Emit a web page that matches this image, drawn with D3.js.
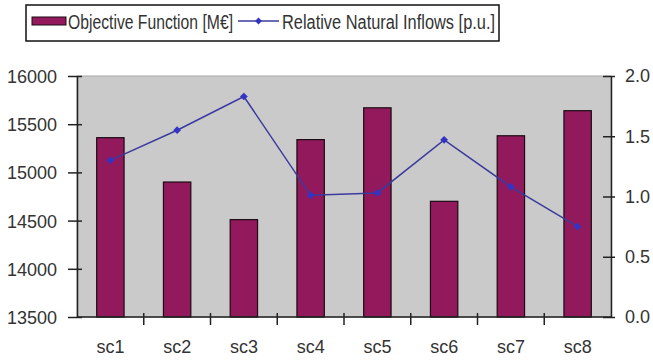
<!DOCTYPE html>
<html><head><meta charset="utf-8">
<script src="https://cdn.jsdelivr.net/npm/d3@7"></script>
<style>body{margin:0;background:#fff}svg{display:block}text{font-family:"Liberation Sans",Arial,sans-serif}</style>
</head><body>
<svg id="c" width="653" height="361"></svg>
<script>
const categories = ["sc1","sc2","sc3","sc4","sc5","sc6","sc7","sc8"];
const objectiveFunction = [15360, 14900, 14510, 15340, 15670, 14700, 15380, 15640];
const naturalInflows = [1.30, 1.55, 1.83, 1.01, 1.03, 1.47, 1.08, 0.75];
const leftTicks = [13500, 14000, 14500, 15000, 15500, 16000];
const rightTicks = [0.0, 0.5, 1.0, 1.5, 2.0];
const seriesNames = ["Objective Function [M\u20AC]", "Relative Natural Inflows [p.u.]"];

const svg = d3.select("#c");
const L = 77, R = 611, T = 76, B = 317;
const x = d3.scaleBand().domain(categories).range([L, R]).paddingInner(0).paddingOuter(0);
const yL = d3.scaleLinear().domain([13500, 16000]).range([B, T]);
const yR = d3.scaleLinear().domain([0, 2]).range([B, T]);
const barColor = "#921a5c", lineColor = "#3b3aa0", markColor = "#3434c4", txt = "#333";

svg.append("rect").attr("x", L).attr("y", T).attr("width", R - L).attr("height", B - T)
  .attr("fill", "#cacaca").attr("stroke", "#a8a8a8").attr("stroke-width", 1);

const bw = x.bandwidth() * 0.41;
svg.append("g").selectAll("rect").data(categories).join("rect")
  .attr("x", d => x(d) + x.bandwidth() / 2 - bw / 2)
  .attr("y", (d, i) => yL(objectiveFunction[i]))
  .attr("width", bw)
  .attr("height", (d, i) => B - yL(objectiveFunction[i]))
  .attr("fill", barColor).attr("stroke", "#1a0a12").attr("stroke-width", 1.2);

const line = d3.line().x((d, i) => x(categories[i]) + x.bandwidth() / 2).y(d => yR(d));
svg.append("path").datum(naturalInflows).attr("d", line)
  .attr("fill", "none").attr("stroke", lineColor).attr("stroke-width", 1.5);
svg.append("g").selectAll("path").data(naturalInflows).join("path")
  .attr("d", d3.symbol(d3.symbolDiamond2, 38))
  .attr("transform", (d, i) => `translate(${x(categories[i]) + x.bandwidth() / 2},${yR(d)})`)
  .attr("fill", markColor);

// axes
const axL = svg.append("g").attr("transform", `translate(${L},0)`)
  .call(d3.axisLeft(yL).tickValues(leftTicks).tickSizeInner(9).tickSizeOuter(0).tickPadding(11).tickFormat(d3.format("d")));
axL.selectAll(".tick line").attr("x2", -9).attr("x1", 5);
const axR = svg.append("g").attr("transform", `translate(${R},0)`)
  .call(d3.axisRight(yR).tickValues(rightTicks).tickSizeInner(4).tickSizeOuter(0).tickPadding(10).tickFormat(d3.format(".1f")));
axR.selectAll(".tick line").attr("x1", -8).attr("x2", 4);
const axB = svg.append("g").attr("transform", `translate(0,${B})`)
  .call(d3.axisBottom(x).tickSize(0).tickPadding(23));
[axL, axR, axB].forEach(a => {
  a.select(".domain").attr("stroke", "#222").attr("stroke-width", 1.5);
  a.selectAll(".tick line").attr("stroke", "#222").attr("stroke-width", 1.5);
  a.selectAll("text").attr("font-size", 18).attr("fill", txt).attr("font-family", "Liberation Sans, Arial, sans-serif");
});
axB.select(".domain").attr("d", `M${L},0H${R}`);
axB.append("g").selectAll("line").data(categories.slice(1)).join("line")
  .attr("x1", d => x(d)).attr("x2", d => x(d)).attr("y1", -4).attr("y2", 8)
  .attr("stroke", "#222").attr("stroke-width", 1.5);
axL.selectAll(".tick text").attr("dy", "0.36em");

// legend
const lg = svg.append("g");
lg.append("rect").attr("x", 26).attr("y", 5).attr("width", 473).attr("height", 36)
  .attr("fill", "#fff").attr("stroke", "#111").attr("stroke-width", 1.5);
lg.append("rect").attr("x", 32).attr("y", 17).attr("width", 34).attr("height", 8)
  .attr("fill", barColor).attr("stroke", "#1a0a12").attr("stroke-width", 1);
lg.append("text").attr("x", 68).attr("y", 29).attr("font-size", 20).attr("fill", txt)
  .attr("textLength", 165).attr("lengthAdjust", "spacingAndGlyphs").text(seriesNames[0]);
lg.append("line").attr("x1", 238).attr("x2", 279).attr("y1", 21).attr("y2", 21)
  .attr("stroke", lineColor).attr("stroke-width", 1.5);
lg.append("path").attr("d", d3.symbol(d3.symbolDiamond2, 30)).attr("transform", "translate(258.5,21)").attr("fill", markColor);
lg.append("text").attr("x", 282).attr("y", 29).attr("font-size", 20).attr("fill", txt)
  .attr("textLength", 213).attr("lengthAdjust", "spacingAndGlyphs").text(seriesNames[1]);
</script>
</body></html>
